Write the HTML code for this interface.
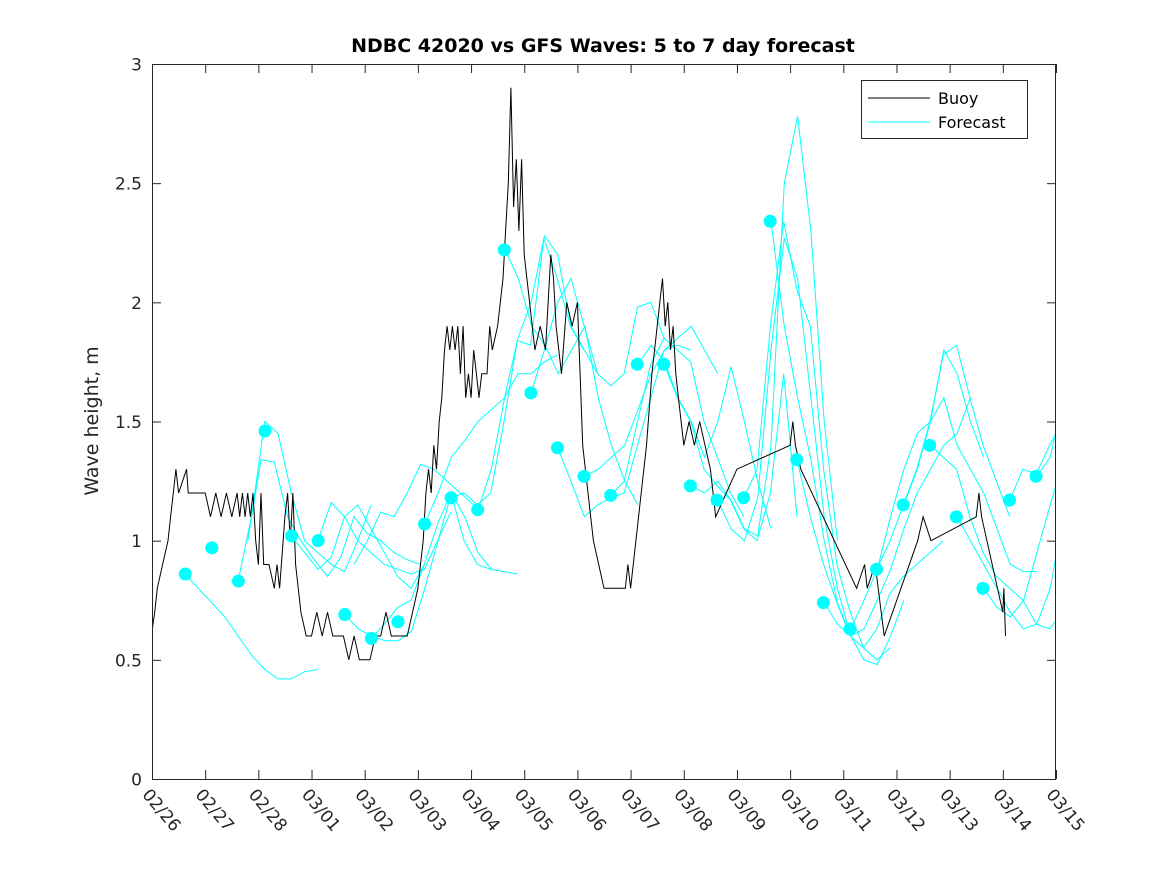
<!DOCTYPE html>
<html><head><meta charset="utf-8"><style>
body{margin:0;background:#fff;}
svg{display:block;font-family:"DejaVu Sans","Liberation Sans",sans-serif;}
</style></head><body>
<svg id="chart" width="1167" height="875">
<rect x="0" y="0" width="1167" height="875" fill="#fff"/>
<defs><clipPath id="clip"><rect x="152" y="64" width="904" height="715"/></clipPath></defs>
<rect x="152.5" y="64.5" width="904" height="715" fill="#fff" stroke="none"/>
<g id="series" clip-path="url(#clip)"></g>
<g id="axes"></g>
<rect x="152.5" y="64.5" width="903" height="715" fill="none" stroke="#262626" stroke-width="1"/>
<text x="603" y="52" text-anchor="middle" font-size="19" font-weight="bold" fill="#000">NDBC 42020 vs GFS Waves: 5 to 7 day forecast</text>
<text transform="translate(98,421) rotate(-90)" text-anchor="middle" font-size="19" fill="#262626">Wave height, m</text>
<g>
<rect x="861.5" y="80.5" width="166" height="58" fill="#fff" stroke="#262626"/>
<line x1="868" y1="98" x2="930" y2="98" stroke="#000"/>
<text x="938" y="104" font-size="16" fill="#000">Buoy</text>
<line x1="868" y1="122" x2="930" y2="122" stroke="#00ffff"/>
<text x="938" y="128" font-size="16" fill="#000">Forecast</text>
</g>
</svg>
<script>
const xTicks = ["02/26","02/27","02/28","03/01","03/02","03/03","03/04","03/05","03/06","03/07","03/08","03/09","03/10","03/11","03/12","03/13","03/14","03/15"];
const yTicks = [0,0.5,1,1.5,2,2.5,3];
const buoyDays = [0,0.05,0.1,0.2,0.3,0.35,0.4,0.45,0.5,0.65,0.68,0.72,1.0,1.1,1.2,1.3,1.4,1.5,1.6,1.65,1.7,1.75,1.8,1.85,1.9,1.95,2.0,2.05,2.1,2.2,2.3,2.35,2.4,2.5,2.55,2.6,2.65,2.7,2.8,2.9,3.0,3.1,3.2,3.3,3.4,3.5,3.6,3.7,3.8,3.9,4.0,4.1,4.2,4.3,4.4,4.5,4.6,4.8,5.0,5.05,5.1,5.15,5.2,5.25,5.3,5.35,5.4,5.45,5.5,5.55,5.6,5.65,5.7,5.75,5.8,5.85,5.9,5.95,6.0,6.05,6.1,6.15,6.2,6.3,6.35,6.4,6.5,6.55,6.6,6.65,6.7,6.75,6.8,6.85,6.9,6.95,7.0,7.1,7.2,7.3,7.4,7.5,7.55,7.6,7.7,7.8,7.9,8.0,8.05,8.1,8.2,8.3,8.4,8.5,8.6,8.9,8.95,9.0,9.1,9.2,9.3,9.4,9.5,9.55,9.6,9.65,9.7,9.75,9.8,9.85,9.9,10.0,10.1,10.2,10.3,10.4,10.5,10.6,11.0,12.0,12.05,12.1,12.2,13.25,13.4,13.45,13.6,13.77,14.4,14.5,14.65,15.5,15.55,15.6,15.9,16.0,16.02,16.05];
const buoyVals = [0.62,0.7,0.8,0.9,1.0,1.1,1.2,1.3,1.2,1.3,1.2,1.2,1.2,1.1,1.2,1.1,1.2,1.1,1.2,1.1,1.2,1.1,1.2,1.1,1.2,1.0,0.9,1.2,0.9,0.9,0.8,0.9,0.8,1.1,1.2,1.0,1.2,0.9,0.7,0.6,0.6,0.7,0.6,0.7,0.6,0.6,0.6,0.5,0.6,0.5,0.5,0.5,0.6,0.6,0.7,0.6,0.6,0.6,0.8,0.9,1.0,1.2,1.3,1.2,1.4,1.3,1.5,1.6,1.8,1.9,1.8,1.9,1.8,1.9,1.7,1.9,1.6,1.7,1.6,1.8,1.7,1.6,1.7,1.7,1.9,1.8,1.9,2.0,2.1,2.3,2.5,2.9,2.4,2.6,2.3,2.6,2.2,2.0,1.8,1.9,1.8,2.2,2.1,1.9,1.7,2.0,1.9,2.0,1.7,1.4,1.2,1.0,0.9,0.8,0.8,0.8,0.9,0.8,1.0,1.2,1.4,1.7,1.9,2.0,2.1,1.9,2.0,1.8,1.9,1.7,1.6,1.4,1.5,1.4,1.5,1.4,1.3,1.1,1.3,1.4,1.5,1.4,1.3,0.8,0.9,0.8,0.9,0.6,1.0,1.1,1.0,1.1,1.2,1.1,0.8,0.7,0.8,0.6];
const dotVals = [0.86,0.97,0.83,1.46,1.02,1.00,0.69,0.59,0.66,1.07,1.18,1.13,2.22,1.62,1.39,1.27,1.19,1.74,1.74,1.23,1.17,1.18,2.34,1.34,0.74,0.63,0.88,1.15,1.40,1.10,0.80,1.17,1.27];
const runStarts = [0.62,1.62,1.8,2.62,3.12,3.63,4.12,3.8,5.13,5.62,6.13,6.64,7.13,7.63,8.14,8.63,9.14,9.63,10.14,10.64,11.13,11.64,12.13,12.64,13.14,13.63,14.14,14.63,15.14,15.64,16.13,16.64];
const runVals = [
[0.86,0.80,0.74,0.68,0.60,0.52,0.46,0.42,0.42,0.45,0.46],
[0.83,1.1,1.50,1.45,1.2,1.0,0.95,0.9,0.87,1.0,1.15],
[1.0,1.34,1.33,1.1,1.0,0.92,0.85,0.93,1.1,1.03,1.0,0.95,0.92,0.9],
[1.02,0.95,0.88,0.93,1.1,1.15,1.05,0.95,0.85,0.8,0.9],
[1.0,1.16,1.1,1.0,0.95,0.9,0.88,0.86,0.88,1.0,1.12],
[0.69,0.63,0.60,0.58,0.58,0.62,0.8,1.0,1.2,1.1,0.95,0.88],
[0.59,0.65,0.72,0.75,0.9,1.07,1.2,1.0,0.9,0.88,0.87,0.86],
[0.9,1.0,1.12,1.1,1.2,1.32,1.3,1.25,1.2,1.15],
[1.07,1.2,1.35,1.42,1.5,1.55,1.6,1.7,1.7,1.75,1.78],
[1.18,1.2,1.15,1.2,1.5,1.84,1.82,2.27,2.1,1.9,1.8],
[1.13,1.3,1.6,1.85,2.0,2.28,2.2,1.9,1.8,1.7],
[2.22,2.1,1.9,1.82,1.7,1.8,1.9,1.6,1.4,1.25,1.15],
[1.62,1.8,2.0,2.1,1.9,1.7,1.65,1.7,1.98,2.0,1.85],
[1.39,1.25,1.1,1.15,1.18,1.2,1.4,1.6,1.8,1.82,1.8],
[1.27,1.3,1.35,1.4,1.55,1.7,1.8,1.85,1.9,1.8,1.7],
[1.19,1.25,1.5,1.74,1.85,1.8,1.75,1.5,1.35,1.2,1.1],
[1.74,1.82,1.75,1.6,1.5,1.35,1.5,1.73,1.5,1.25,1.05],
[1.74,1.6,1.5,1.3,1.23,1.17,1.05,1.0,1.2,1.7,1.1],
[1.23,1.2,1.25,1.17,1.05,1.02,1.4,2.5,2.78,2.3,1.5,1.0],
[1.17,1.05,1.0,1.18,1.8,2.27,2.1,1.6,1.1,0.8,0.6],
[1.18,1.3,1.9,2.34,2.05,1.9,1.3,0.9,0.7,0.55,0.5,0.55],
[2.34,1.9,1.6,1.34,1.0,0.74,0.6,0.5,0.48,0.6,0.75],
[1.34,1.1,0.9,0.74,0.6,0.55,0.63,0.78,0.85,0.9,0.95,1.0],
[0.74,0.65,0.6,0.63,0.75,0.88,1.05,1.2,1.3,1.4,1.45,1.6],
[0.63,0.75,0.88,1.1,1.3,1.45,1.5,1.8,1.7,1.5,1.35],
[0.88,1.0,1.15,1.3,1.5,1.78,1.82,1.6,1.4,1.25,1.1],
[1.15,1.3,1.5,1.6,1.4,1.3,1.2,1.05,0.9,0.87,0.87],
[1.40,1.35,1.3,1.1,0.95,0.85,0.8,0.75,0.65,0.63,0.7],
[1.10,1.0,0.9,0.8,0.7,0.63,0.65,0.8,1.1,1.3,1.35],
[0.80,0.72,0.68,0.75,0.95,1.15,1.33,1.3,1.4,1.45,1.62],
[1.17,1.3,1.28,1.4,1.5,1.62,1.9],
[1.27,1.35,1.6]
];
const NS="http://www.w3.org/2000/svg";
const X0=152,X1=1056,Y0=779,Y1=64;
function xs(d){return X0+(X1-X0)*d/17;}
function ys(v){return Y0-(Y0-Y1)*v/3;}
const ax=document.getElementById('axes'), se=document.getElementById('series');
function mk(tag,attrs,parent){const e=document.createElementNS(NS,tag);for(const k in attrs)e.setAttribute(k,attrs[k]);parent.appendChild(e);return e;}
xTicks.forEach((t,i)=>{
  const x=xs(i)+0.5;
  const l1=mk('line',{x1:x,y1:Y0,x2:x,y2:Y0-9,stroke:'#262626'},ax);
  
  
  const l2=mk('line',{x1:x,y1:Y1,x2:x,y2:Y1+9,stroke:'#262626'},ax);
  
  
  const tx=mk('text',{transform:`translate(${x-11},${Y0+16}) rotate(50)`,'font-size':'17',fill:'#262626'},ax);
  tx.textContent=t;
  
  
});
yTicks.forEach(v=>{
  const y=ys(v)+0.5;
  const l1=mk('line',{x1:X0,y1:y,x2:X0+9,y2:y,stroke:'#262626'},ax);
  
  
  const l2=mk('line',{x1:X1,y1:y,x2:X1-9,y2:y,stroke:'#262626'},ax);
  
  
  const tx=mk('text',{x:X0-10,y:y+6,'text-anchor':'end','font-size':'17',fill:'#262626'},ax);
  tx.textContent=String(v);
  
  
});
runStarts.forEach((s,r)=>{
  const pts=runVals[r].map((v,i)=>xs(s+0.25*i).toFixed(1)+','+ys(v).toFixed(1)).join(' ');
  const p=mk('polyline',{points:pts,fill:'none',stroke:'#00ffff','stroke-width':'1'},se);
  
  
});
const bp=buoyDays.map((d,i)=>xs(d).toFixed(1)+','+ys(buoyVals[i]).toFixed(1)).join(' ');
const b=mk('polyline',{points:bp,fill:'none',stroke:'#000','stroke-width':'1'},se);


dotVals.forEach((v,i)=>{
  const c=mk('circle',{cx:xs(0.625+0.5*i),cy:ys(v),r:6.5,fill:'#00ffff'},se);
  
  
});
</script>
</body></html>
